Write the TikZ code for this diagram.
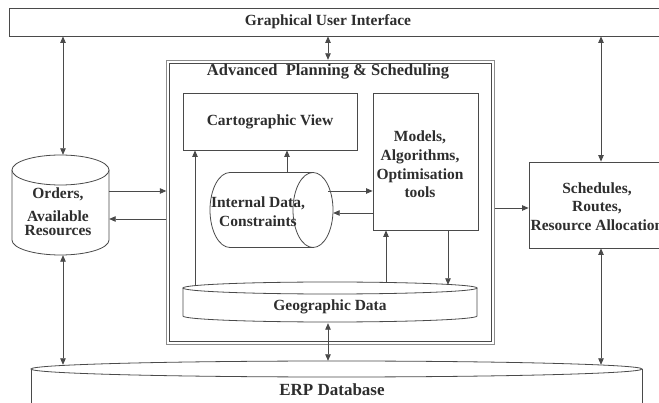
\documentclass[tikz,border=0pt]{standalone}
\usepackage{fontspec}
\setmainfont{Liberation Serif}
\usetikzlibrary{arrows.meta}
\definecolor{lncol}{HTML}{4A4A4A}
\definecolor{txtcol}{HTML}{2E2E2E}
\definecolor{framecol}{HTML}{8C8C8C}
\begin{document}
\begin{tikzpicture}[x=1pt,y=-1pt,
  ln/.style={draw=lncol, line width=0.8pt},
  hole/.style={inner sep=0pt, draw=none},
  box/.style={draw=lncol, line width=0.8pt, fill=white, inner sep=0pt},
  txt/.style={font=\fontsize{15.5}{18.6}\selectfont\bfseries, text=txtcol, align=center, inner sep=0pt},
  tip/.tip={Triangle[length=6.5pt,width=5.5pt]},
  conn/.style={draw=lncol, line width=0.8pt, -tip},
  dbl/.style={draw=lncol, line width=0.8pt, tip-tip}]
\useasboundingbox (0,0) rectangle (659,403);
\clip (0,0) rectangle (659,403);

% helper rows and columns for connector routing
\coordinate (r1) at (0,191);
\coordinate (r2) at (0,219);
\coordinate (r3) at (0,208);
\coordinate (r4) at (0,191);
\coordinate (r5) at (0,213);
\coordinate (c1) at (63,0);
\coordinate (c2) at (328,0);
\coordinate (c3) at (601,0);
\coordinate (c4) at (287,0);
\coordinate (c5) at (195,0);
\coordinate (c6) at (386,0);
\coordinate (c7) at (448,0);

% graphical user interface bar
\node[box, minimum width=680pt, minimum height=28pt, anchor=west] (gui) at (9,22) {};
\node[txt] (guitxt) at (328,22) {Graphical User Interface};

% APS frame (double border)
\node[hole, minimum width=328pt, minimum height=285pt] (aps) at (330.5,202.5) {};
\draw[draw=framecol, line width=1.8pt] (166.5,60.5) rectangle (494.5,344.5);
\draw[draw=lncol, line width=0.7pt] (169.5,63.5) rectangle (491.5,341.5);
\node[txt, font=\fontsize{16.5}{19}\selectfont\bfseries] (apstxt) at (328,72) {Advanced\ \ Planning \& Scheduling};

% orders cylinder
\node[hole, minimum width=97pt, minimum height=100pt] (orders) at (60.5,205) {};
\draw[ln, fill=white] (12,170) -- (12,240) arc[start angle=180, end angle=0, x radius=48.5, y radius=15] -- (109,170);
\draw[ln, fill=white] (60.5,170) ellipse[x radius=48.5, y radius=15];
\node[txt] (orderstxt) at (58,212) {Orders,\\[3.5pt] Available\\[-4pt] Resources};

% ERP database
\node[hole, minimum width=611pt, minimum height=16pt] (erp) at (336.5,369) {};
\draw[ln, fill=white] (31,369) -- (31,420) -- (642,420) -- (642,369);
\draw[ln, fill=white] (336.5,369) ellipse[x radius=305.5, y radius=8];
\node[txt, font=\fontsize{17}{20}\selectfont\bfseries] (erptxt) at (332,390) {ERP Database};

% schedules box
\node[box, minimum width=171pt, minimum height=86pt] (sched) at (614.5,205) {};
\node[txt] (schedtxt) at (597,206.5) {Schedules,\\ Routes,\\ Resource Allocation};

% cartographic view
\node[box, minimum width=174pt, minimum height=57pt] (cart) at (270,121.5) {};
\node[txt] (carttxt) at (270,122) {Cartographic View};

% models box
\node[box, minimum width=105pt, minimum height=137pt] (models) at (425.5,161.5) {};
\node[txt] (modelstxt) at (420,164.5) {Models,\\ Algorithms,\\ Optimisation\\ tools};

% internal data cylinder (horizontal)
\node[hole, minimum width=123pt, minimum height=75pt] (internal) at (271.5,210) {};
\draw[ln, fill=white] (313,172.5) -- (230,172.5) arc[start angle=270, end angle=90, x radius=20, y radius=37.5] -- (313,247.5);
\draw[ln] (313,210) ellipse[x radius=20, y radius=37.5];
\node[txt] (internaltxt) at (258,212) {Internal Data,\\ Constraints};

% geographic data disk
\node[hole, minimum width=294pt, minimum height=41pt] (geo) at (330,302.5) {};
\draw[ln, fill=white] (183,288) -- (183,316) arc[start angle=180, end angle=0, x radius=147, y radius=6] -- (477,288);
\draw[ln, fill=white] (330,288) ellipse[x radius=147, y radius=6];
\node[txt] (geotxt) at (330,307) {Geographic Data};

% connectors
\draw[dbl] (gui.south -| c1) -- (orders.north -| c1);
\draw[dbl] (gui.south -| c2) -- (aps.north -| c2);
\draw[dbl] (gui.south -| c3) -- (sched.north -| c3);
\draw[conn] (orders.east |- r1) -- (aps.west |- r1);
\draw[conn] (aps.west |- r2) -- (orders.east |- r2);
\draw[dbl] (orders.south -| c1) -- ([yshift=-4pt]erp.north -| c1);
\draw[dbl] (sched.south -| c3) -- ([yshift=-4pt]erp.north -| c3);
\draw[conn] (aps.east |- r3) -- (sched.west |- r3);
\draw[dbl] (geo.south -| c2) -- (erp.north -| c2);
\draw[conn] (internal.north -| c4) -- (cart.south -| c4);
\draw[conn] ([yshift=-4pt]geo.north -| c5) -- (cart.south -| c5);
\draw[conn] ([xshift=-5pt]internal.east |- r4) -- (models.west |- r4);
\draw[conn] (models.west |- r5) -- (internal.east |- r5);
\draw[conn] ([yshift=-1pt]geo.north -| c6) -- (models.south -| c6);
\draw[conn] (models.south -| c7) -- ([yshift=-3pt]geo.north -| c7);
\end{tikzpicture}
\end{document}
